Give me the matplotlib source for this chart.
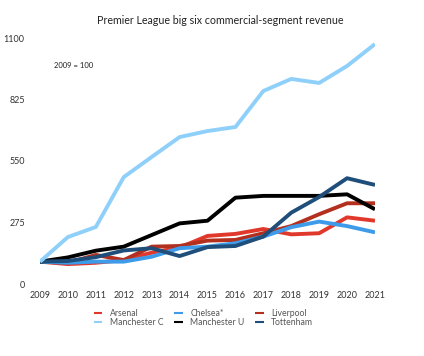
import matplotlib
matplotlib.use('Agg')
import matplotlib.pyplot as plt

plt.rcParams['font.family'] = ['Lato', 'DejaVu Sans']

years = list(range(2009, 2022))
arsenal = [100, 89, 95, 107, 140, 163, 215, 224, 246, 222, 227, 298, 283]
chelsea = [100, 95, 100, 100, 122, 160, 167, 182, 212, 254, 279, 259, 231]
liverpool = [100, 95, 130, 107, 167, 170, 194, 197, 227, 259, 312, 361, 361]
man_city = [100, 210, 255, 478, 568, 657, 684, 702, 863, 917, 899, 975, 1073]
man_utd = [100, 119, 149, 167, 219, 271, 283, 386, 394, 394, 394, 401, 334]
tottenham = [100, 103, 120, 150, 160, 125, 165, 170, 212, 319, 389, 473, 443]

series = [
    ('Arsenal', arsenal, '#e0392c'),
    ('Manchester C', man_city, '#8fd0fb'),
    ('Chelsea*', chelsea, '#3d9be9'),
    ('Manchester U', man_utd, '#000000'),
    ('Liverpool', liverpool, '#b3301f'),
    ('Tottenham', tottenham, '#1f4e7a'),
]
draw_order = ['Manchester C', 'Tottenham', 'Manchester U', 'Chelsea*', 'Liverpool', 'Arsenal']

fig = plt.figure(figsize=(4.24, 3.56), dpi=100)
ax = fig.add_axes([40 / 424, 1 - 284 / 356, 335 / 424, 246 / 356])

handles = {}
for name, vals, col in series:
    z = 10 - draw_order.index(name)
    ln, = ax.plot(years, vals, color=col, linewidth=2.8, zorder=z,
                  solid_capstyle='butt', label=name)
    handles[name] = ln

ax.set_xlim(2009, 2021)
ax.set_ylim(0, 1100)
ax.set_xticks(years)
ax.set_yticks([0, 275, 550, 825, 1100])
ax.tick_params(length=0, labelsize=6.5, colors='#333333')
ax.tick_params(axis='y', pad=11)
ax.tick_params(axis='x', pad=5)
for s in ax.spines.values():
    s.set_visible(False)

fig.text(0.52, 1 - 20 / 356, 'Premier League big six commercial-segment revenue',
         ha='center', va='center', fontsize=7.7, color='#222222')
ax.text(2009.5, 975, '2009 = 100', fontsize=5.5, color='#222222', va='center')

leg = fig.legend([handles[n] for n, _, _ in series], [n for n, _, _ in series],
                 ncol=3, loc='center', bbox_to_anchor=(0.48, 1 - 318 / 356),
                 frameon=False, fontsize=6.2, handlelength=1.0,
                 handletextpad=0.9, columnspacing=1.2, labelspacing=0.1)
for t in leg.get_texts():
    t.set_color('#555555')
for l in leg.get_lines():
    l.set_linewidth(1.5)

fig.savefig('out.png', dpi=100)
